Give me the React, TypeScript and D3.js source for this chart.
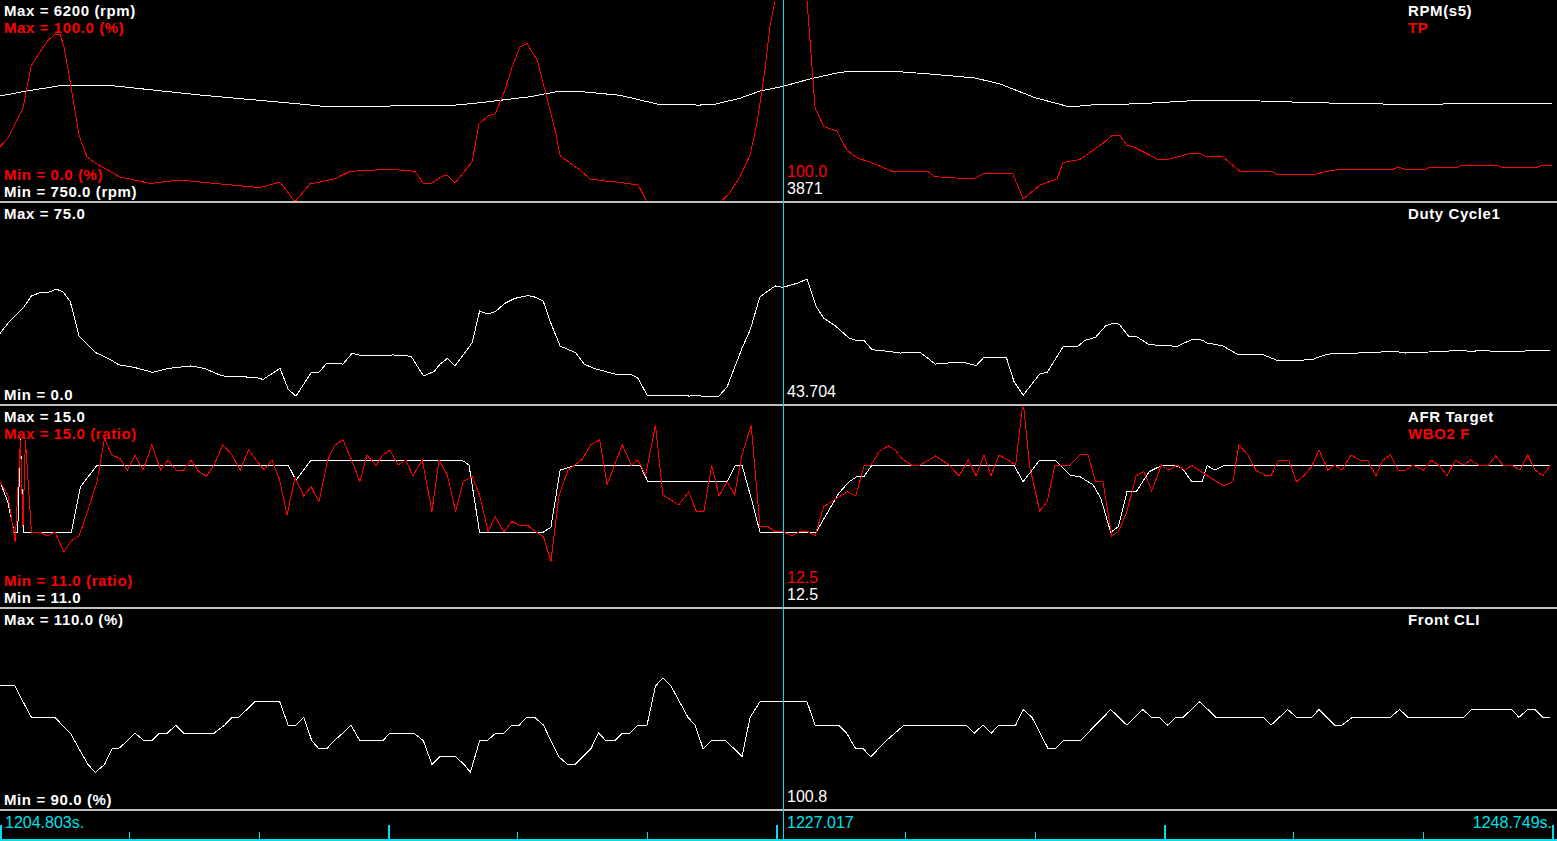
import { useEffect, useRef } from 'react';
import * as d3 from 'd3';

type Pt = [number, number];

// log window (s)
const startTime = 1204.803;
const endTime = 1248.749;
const cursorTime = 1227.017;

// [seconds since start, value]
const rpm: Pt[] = [
  [0, 3610], [0.76, 3745], [1.70, 3888], [3.26, 3880], [5.66, 3637], [8.49, 3394], [9.15, 3332],
  [10.76, 3338], [12.74, 3350], [13.59, 3429], [15.01, 3591], [15.72, 3718], [16.57, 3718],
  [17.56, 3629], [18.69, 3375], [19.82, 3366], [20.25, 3390], [20.95, 3548], [21.52, 3745],
  [22.17, 3871], [22.94, 4070], [23.79, 4250], [24.35, 4284], [25.20, 4284], [26.33, 4203],
  [27.61, 4096], [28.32, 3934], [29.31, 3564], [30.30, 3313], [30.86, 3366], [32.28, 3402],
  [33.98, 3494], [35.68, 3475], [37.24, 3428], [40.21, 3375], [41.12, 3401], [43.95, 3401],
];

const tp: Pt[] = [
  [0, 27.4], [0.23, 31.8], [0.65, 46.4], [0.88, 67.3], [1.13, 74.3], [1.36, 80], [1.56, 83],
  [1.70, 83], [1.81, 77], [1.98, 60.4], [2.24, 32.7], [2.46, 22.4], [2.69, 19.3], [3.40, 12.4],
  [4.25, 9.2], [5.10, 10.9], [5.95, 9.4], [7.36, 7.1], [7.93, 9.9], [8.35, 0.1], [8.78, 8.9],
  [9.49, 11.5], [9.91, 15.2], [11.04, 16.2], [11.75, 15.2], [11.98, 9.4], [12.23, 9.4],
  [12.54, 12.9], [12.66, 13.4], [12.88, 9.4], [13.37, 19.9], [13.56, 38.6], [13.82, 42.6],
  [14.02, 43.6], [14.30, 55.4], [14.50, 66.8], [14.72, 76.7], [14.92, 78.5], [15.21, 70.3],
  [15.43, 55.4], [15.72, 35.6], [15.86, 22.9], [16.42, 15.8], [16.71, 11.4], [17.13, 10.4],
  [17.47, 9.9], [17.75, 9.2], [18.07, 8.4], [18.32, 0], [20.39, 0], [20.64, 4], [20.95, 12.4],
  [21.24, 23.3], [21.44, 39.6], [21.66, 65.3], [21.80, 86.6], [21.95, 100], [22.85, 100],
  [23.08, 46.5], [23.33, 37.3], [23.70, 35.1], [23.98, 25.7], [24.27, 21.8], [24.63, 19.8],
  [25.29, 15], [26.28, 15], [26.48, 12.5], [27.55, 11.4], [27.84, 13.9], [28.68, 13.9],
  [28.97, 1.5], [29.45, 8.4], [29.93, 11.4], [30.10, 19.5], [30.58, 21.1], [31.23, 29],
  [31.49, 33], [31.71, 33], [31.91, 28.1], [32.08, 27.4], [32.79, 21.1], [33.07, 21.1],
  [33.36, 22.4], [33.70, 24.1], [33.98, 24.1], [34.18, 22.3], [34.63, 22.3], [35.11, 15.2],
  [36.02, 15.2], [36.19, 13.4], [37.18, 13.4], [37.58, 15.2], [37.94, 16.2], [39.44, 16.2],
  [39.59, 17.2], [39.78, 16.2], [40.35, 16.2], [40.49, 17.2], [41.26, 17.2], [41.40, 18.2],
  [42.39, 18.2], [42.53, 17.2], [43.52, 17.2], [43.66, 18.2], [43.95, 18.2],
];

const duty: Pt[] = [
  [0, 26.6], [0.26, 30.9], [0.65, 35.9], [0.89, 40.5], [1.13, 41.7], [1.37, 41.8], [1.59, 43],
  [1.78, 42.1], [1.99, 38.4], [2.24, 25.6], [2.72, 19.4], [3.11, 17], [3.37, 14.9], [3.79, 14],
  [4.33, 12.1], [4.76, 13.6], [5.41, 14.5], [5.78, 13.6], [6.29, 10.8], [6.71, 10.5],
  [7.22, 10.3], [7.45, 9.5], [7.93, 13.6], [8.16, 5.8], [8.38, 3.3], [8.81, 12], [9.03, 12.1],
  [9.25, 15.5], [9.71, 15.2], [9.97, 19.2], [10.25, 18.3], [10.99, 18.3], [11.13, 18.6],
  [11.64, 18.1], [11.99, 10.8], [12.29, 12.4], [12.46, 15.2], [12.67, 17.3], [12.88, 14.5],
  [13.37, 23.1], [13.58, 34.9], [13.79, 33.8], [14.02, 34.6], [14.30, 37.8], [14.58, 39.6],
  [14.95, 40.6], [15.17, 40], [15.38, 38.6], [15.60, 30.3], [15.86, 21.9], [16.30, 19.4],
  [16.54, 15.2], [16.82, 13.6], [17.41, 11.5], [17.84, 11.5], [18.07, 9.9], [18.32, 3.7],
  [19.37, 3.7], [19.51, 3.3], [19.71, 3.7], [19.86, 3.3], [20.36, 3.3], [20.59, 6.8],
  [21.01, 21], [21.24, 27.8], [21.52, 40.2], [21.95, 44.2], [22.17, 43.7], [22.60, 45.3],
  [22.85, 46.8], [23.11, 36.6], [23.32, 32.3], [23.67, 29.2], [24.04, 24.9], [24.26, 23.9],
  [24.47, 23.9], [24.69, 20.5], [24.98, 20.2], [25.49, 19.3], [26.05, 19.6], [26.48, 15.2],
  [26.84, 15.6], [27.27, 15.9], [27.64, 14.6], [27.86, 17.7], [28.50, 17.5], [28.71, 8.8],
  [28.97, 3.6], [29.44, 11.5], [29.65, 12.1], [30.11, 21.8], [30.52, 21.8], [30.72, 24],
  [31.02, 25.1], [31.31, 29.4], [31.52, 30.4], [31.69, 30], [31.96, 25.5], [32.17, 25.5],
  [32.54, 22.4], [33.33, 21.8], [33.75, 24.3], [34.04, 24.1], [34.18, 23], [34.62, 22],
  [35.06, 18.7], [35.76, 18.7], [36.20, 16.4], [37.14, 16.8], [37.58, 18.9], [38.43, 19.3],
  [39.52, 19.9], [39.80, 19.3], [40.66, 19.8], [41.39, 20.3], [41.68, 19.8], [41.88, 20.3],
  [42.47, 19.8], [43.90, 20.3],
];

const afrTarget: Pt[] = [
  [0, 13.5], [0.22, 13.1], [0.40, 12.5], [0.50, 12.5], [0.58, 14.37], [0.66, 12.5],
  [0.89, 12.5], [2.02, 12.5], [2.28, 13.4], [2.75, 13.83], [8.16, 13.83], [8.38, 13.53],
  [8.81, 13.93], [13.08, 13.93], [13.28, 13.83], [13.58, 12.5], [15.38, 12.5], [15.60, 12.6],
  [15.86, 13.73], [16.32, 13.83], [18.12, 13.83], [18.35, 13.5], [20.59, 13.5], [20.83, 13.83],
  [21.01, 13.83], [21.31, 13.07], [21.52, 12.5], [23.11, 12.5], [23.39, 12.84], [23.75, 13.27],
  [24.04, 13.5], [24.26, 13.6], [24.47, 13.61], [24.69, 13.83], [28.71, 13.83], [28.97, 13.5],
  [29.44, 13.93], [29.87, 13.93], [30.30, 13.63], [30.58, 13.6], [30.95, 13.44], [31.17, 13.17],
  [31.45, 12.5], [31.67, 12.61], [31.91, 13.3], [32.17, 13.3], [32.54, 13.7], [32.89, 13.82],
  [33.24, 13.83], [33.47, 13.77], [33.75, 13.5], [34.04, 13.5], [34.18, 13.82], [34.40, 13.73],
  [34.69, 13.83], [43.90, 13.83],
];

const wbo2: Pt[] = [
  [0, 13.5], [0.22, 13.24], [0.43, 12.31], [0.58, 14.33], [0.65, 12.6], [0.72, 14.33],
  [0.89, 12.5], [1.13, 12.5], [1.33, 12.43], [1.56, 12.5], [1.81, 12.11], [2.02, 12.33],
  [2.24, 12.43], [2.43, 12.81], [2.75, 13.5], [2.96, 14.36], [3.17, 14.03], [3.40, 13.96],
  [3.61, 13.73], [3.82, 14.03], [4.05, 13.73], [4.30, 14.23], [4.55, 13.73], [4.76, 13.93],
  [4.98, 13.73], [5.20, 13.73], [5.41, 13.93], [5.63, 13.70], [5.85, 13.61], [6.06, 13.83],
  [6.31, 14.23], [6.57, 14.03], [6.80, 13.73], [7.04, 14.13], [7.22, 13.96], [7.48, 13.73],
  [7.70, 13.93], [7.92, 13.53], [8.13, 12.84], [8.35, 13.58], [8.60, 13.22], [8.81, 13.40],
  [9.03, 13.10], [9.28, 13.93], [9.49, 14.23], [9.71, 14.33], [9.94, 13.96], [10.19, 13.50],
  [10.39, 14.03], [10.65, 13.82], [10.84, 14.03], [11.04, 14.13], [11.27, 13.83], [11.49, 13.93],
  [11.69, 13.62], [11.96, 13.93], [12.23, 12.91], [12.43, 13.93], [12.67, 13.63], [12.90, 12.91],
  [13.11, 13.50], [13.37, 13.60], [13.58, 13.24], [13.82, 12.51], [14.02, 12.81], [14.27, 12.51],
  [14.49, 12.71], [14.70, 12.64], [14.95, 12.63], [15.17, 12.51], [15.39, 12.41], [15.60, 11.92],
  [15.82, 13.20], [16.08, 13.73], [16.47, 13.93], [16.73, 14.23], [16.98, 14.33], [17.19, 13.44],
  [17.62, 14.23], [17.88, 13.83], [18.06, 13.93], [18.28, 13.63], [18.56, 14.62], [18.77, 13.24],
  [19.22, 13.04], [19.50, 13.30], [19.72, 12.91], [19.93, 12.91], [20.15, 13.83], [20.36, 13.22],
  [20.59, 13.50], [20.80, 13.24], [21.01, 14.03], [21.27, 14.62], [21.52, 12.61], [21.75, 12.61],
  [21.96, 12.51], [22.17, 12.51], [22.41, 12.43], [22.64, 12.51], [22.88, 12.51], [23.08, 12.43],
  [23.32, 13.0], [23.61, 13.14], [24.00, 13.30], [24.23, 13.22], [24.47, 13.82], [24.66, 13.83],
  [24.90, 14.10], [25.15, 14.21], [25.34, 14.13], [25.54, 13.96], [25.81, 13.83], [26.05, 13.83],
  [26.49, 14.01], [26.87, 13.83], [27.16, 13.62], [27.42, 13.93], [27.64, 13.62], [27.86, 14.03],
  [28.06, 13.62], [28.29, 14.03], [28.54, 13.93], [28.76, 13.83], [28.97, 15.1], [29.15, 13.83],
  [29.44, 12.92], [29.65, 13.10], [29.87, 13.83], [30.30, 13.83], [30.58, 14.03], [30.81, 14.03],
  [31.02, 13.50], [31.23, 13.50], [31.48, 12.43], [31.67, 12.51], [31.91, 12.91], [32.17, 13.62],
  [32.39, 13.70], [32.61, 13.32], [32.89, 13.83], [33.10, 13.73], [33.33, 13.83], [33.54, 13.73],
  [33.75, 13.82], [34.18, 13.62], [34.65, 13.42], [34.91, 13.50], [35.08, 14.23], [35.34, 14.03],
  [35.56, 13.73], [35.84, 13.62], [35.99, 13.62], [36.20, 13.93], [36.49, 13.93], [36.71, 13.50],
  [36.92, 13.62], [37.14, 13.80], [37.35, 14.13], [37.60, 13.73], [37.79, 13.83], [38.00, 13.73],
  [38.25, 14.03], [38.51, 13.93], [38.72, 13.93], [38.96, 13.62], [39.16, 13.93], [39.37, 14.03],
  [39.59, 13.73], [39.80, 13.73], [40.01, 13.83], [40.31, 13.73], [40.52, 13.93], [40.74, 13.83],
  [40.98, 13.62], [41.21, 13.93], [41.43, 13.83], [41.64, 13.93], [41.89, 13.82], [42.13, 13.82],
  [42.35, 14.01], [42.56, 13.83], [42.80, 13.83], [43.04, 13.73], [43.26, 14.03], [43.47, 13.73],
  [43.69, 13.62], [43.90, 13.83],
];

const frontCli: Pt[] = [
  [0, 102.34], [0.43, 102.34], [0.65, 100.78], [0.89, 99.22], [1.56, 99.22], [1.76, 98.44],
  [1.99, 97.66], [2.24, 96.09], [2.49, 94.53], [2.70, 93.75], [2.96, 94.53], [3.17, 96.09],
  [3.35, 96.09], [3.61, 96.88], [3.82, 97.66], [4.08, 96.88], [4.29, 96.88], [4.52, 97.66],
  [4.74, 97.66], [4.98, 98.44], [5.20, 97.66], [6.07, 97.66], [6.36, 98.44], [6.57, 99.22],
  [6.76, 99.22], [7.22, 100.78], [7.92, 100.78], [8.16, 98.44], [8.38, 98.44], [8.60, 99.22],
  [8.83, 96.88], [9.03, 96.09], [9.25, 96.09], [9.46, 96.88], [9.71, 97.66], [9.94, 98.44],
  [10.19, 96.88], [10.84, 96.88], [11.04, 97.66], [11.72, 97.66], [11.99, 96.88], [12.23, 94.53],
  [12.46, 95.31], [12.90, 95.31], [13.14, 94.53], [13.32, 93.75], [13.58, 96.88], [13.79, 96.88],
  [14.04, 97.66], [14.27, 97.66], [14.49, 98.44], [14.70, 98.44], [14.92, 99.22], [15.14, 99.22],
  [15.39, 98.44], [15.60, 96.88], [15.82, 95.31], [16.07, 94.53], [16.28, 94.53], [16.51, 95.31],
  [16.73, 96.09], [16.95, 97.66], [17.16, 96.88], [17.41, 96.88], [17.62, 97.66], [17.84, 97.66],
  [18.06, 98.44], [18.32, 98.44], [18.56, 102.34], [18.77, 103.13], [19.00, 102.34],
  [19.24, 100.78], [19.48, 99.22], [19.68, 98.44], [19.91, 96.09], [20.13, 96.88], [20.56, 96.88],
  [21.01, 95.31], [21.24, 99.22], [21.52, 100.78], [22.85, 100.78], [23.08, 98.44], [23.75, 98.44],
  [23.97, 97.66], [24.23, 96.09], [24.44, 96.09], [24.66, 95.31], [25.09, 96.88], [25.60, 98.44],
  [27.35, 98.44], [27.59, 97.66], [27.83, 98.44], [28.07, 97.66], [28.29, 98.44], [28.76, 98.44],
  [28.97, 100.0], [29.22, 99.22], [29.68, 96.09], [29.87, 96.09], [30.11, 96.88], [30.58, 96.88],
  [31.02, 98.44], [31.45, 100.0], [31.91, 98.44], [32.36, 100.0], [32.61, 99.22], [32.82, 99.22],
  [33.06, 98.44], [33.30, 99.22], [33.50, 99.22], [33.97, 100.78], [34.43, 99.22], [35.77, 99.22],
  [35.99, 98.44], [36.46, 100.0], [36.71, 99.22], [37.14, 99.22], [37.35, 100.0], [37.79, 98.44],
  [38.00, 98.44], [38.29, 99.22], [39.37, 99.22], [39.63, 100.0], [39.87, 99.22], [41.45, 99.22],
  [41.67, 100.0], [42.80, 100.0], [43.01, 99.22], [43.26, 100.0], [43.47, 100.0], [43.69, 99.22],
  [43.90, 99.22],
];

// cursor readouts shown at 1227.017 s
const readouts = ['3871', '100.0', '43.704', '12.5', '12.5', '100.8'];

type Trace = {
  name: string
  data: Pt[]
  color: string
  min: number
  max: number
  maxLabel: string
  minLabel: string
  readout: string
};

const panels: Trace[][] = [
  [
    { name: 'RPM(s5)', data: rpm, color: '#ffffff', min: 750, max: 6200, maxLabel: 'Max = 6200 (rpm)', minLabel: 'Min = 750.0 (rpm)', readout: readouts[0] },
    { name: 'TP', data: tp, color: '#ff0000', min: 0, max: 100, maxLabel: 'Max = 100.0 (%)', minLabel: 'Min = 0.0 (%)', readout: readouts[1] },
  ],
  [
    { name: 'Duty Cycle1', data: duty, color: '#ffffff', min: 0, max: 75, maxLabel: 'Max = 75.0', minLabel: 'Min = 0.0', readout: readouts[2] },
  ],
  [
    { name: 'AFR Target', data: afrTarget, color: '#ffffff', min: 11, max: 15, maxLabel: 'Max = 15.0', minLabel: 'Min = 11.0', readout: readouts[3] },
    { name: 'WBO2 F', data: wbo2, color: '#ff0000', min: 11, max: 15, maxLabel: 'Max = 15.0 (ratio)', minLabel: 'Min = 11.0 (ratio)', readout: readouts[4] },
  ],
  [
    { name: 'Front CLI', data: frontCli, color: '#ffffff', min: 90, max: 110, maxLabel: 'Max = 110.0 (%)', minLabel: 'Min = 90.0 (%)', readout: readouts[5] },
  ],
];

const LogViewer = () => {
  const ref = useRef<HTMLDivElement>(null);
  useEffect(() => {
    const width = 1557;
    const height = 841;
    const plotRight = 1552;
    const panelBounds: [number, number][] = [[0, 202], [203, 405], [406, 608], [609, 810]];
    const cyan = '#00e0ea';
    const grid = '#c0c0c0';
    const font = '"Liberation Sans", Arial, sans-serif';

    const x = d3.scaleLinear()
      .domain([0, endTime - startTime])
      .range([0, plotRight]);
    const cursorX = Math.floor(x(cursorTime - startTime)) - 1;

    const svg = d3.create('svg')
      .attr('width', width)
      .attr('height', height)
      .attr('viewBox', [0, 0, width, height])
      .style('display', 'block')
      .style('background', '#000')
      .style('font-family', font);

    const defs = svg.append('defs');

    panels.forEach((traces, pi) => {
      const [top, bottom] = panelBounds[pi];
      const g = svg.append('g');
      defs.append('clipPath')
        .attr('id', `clip${pi}`)
        .append('rect')
        .attr('x', 0)
        .attr('y', top + 1)
        .attr('width', width)
        .attr('height', bottom - top);

      traces.forEach((tr, i) => {
        const y = d3.scaleLinear().domain([tr.min, tr.max]).range([bottom, top]);
        const line = d3.line<Pt>()
          .x((d) => x(d[0]))
          .y((d) => y(d[1]));

        g.append('path')
          .attr('clip-path', `url(#clip${pi})`)
          .attr('d', line(tr.data))
          .attr('fill', 'none')
          .attr('stroke', tr.color)
          .attr('stroke-width', 1)
          .attr('shape-rendering', 'crispEdges');

        // scale labels: max stacked downwards, min stacked upwards
        const labels = g.append('g')
          .attr('fill', tr.color)
          .attr('font-size', 15)
          .attr('font-weight', 'bold')
          .attr('letter-spacing', 0.6);
        labels.append('text')
          .attr('x', 4)
          .attr('y', top + 16 + 17 * i)
          .text(tr.maxLabel);
        labels.append('text')
          .attr('x', 4)
          .attr('y', bottom - 5 - 17 * i)
          .text(tr.minLabel);
        labels.append('text')
          .attr('x', 1408)
          .attr('y', top + 16 + 17 * i)
          .text(tr.name);

        g.append('text')
          .attr('x', cursorX + 4)
          .attr('y', bottom - 8 - 17 * i)
          .attr('fill', tr.color)
          .attr('font-size', 16)
          .text(tr.readout);
      });

      svg.append('line')
        .attr('x1', 0)
        .attr('x2', width)
        .attr('y1', bottom)
        .attr('y2', bottom)
        .attr('stroke', grid)
        .attr('stroke-width', 2);
    });

    // time axis
    const axisY = 840;
    const divisions = 12;
    const span = endTime - startTime;
    const ticks = d3.range(divisions + 1).map((i) => (span * i) / divisions);
    const axis = svg.append('g');
    axis.append('line')
      .attr('x1', 0)
      .attr('x2', width)
      .attr('y1', axisY)
      .attr('y2', axisY)
      .attr('stroke', cyan)
      .attr('stroke-width', 2);
    axis.selectAll('line.tick')
      .data(ticks)
      .join('line')
      .attr('class', 'tick')
      .attr('x1', (d, i) => Math.round(x(d)) + (i % 3 === 0 ? 1 : 0.5))
      .attr('x2', (d, i) => Math.round(x(d)) + (i % 3 === 0 ? 1 : 0.5))
      .attr('y1', (d, i) => (i % 3 === 0 ? 825 : 832))
      .attr('y2', axisY)
      .attr('stroke', cyan)
      .attr('stroke-width', (d, i) => (i % 3 === 0 ? 2 : 1));

    const timeText = axis.append('g')
      .attr('fill', cyan)
      .attr('font-size', 16);
    timeText.append('text')
      .attr('x', 5)
      .attr('y', 828)
      .text(`${startTime.toFixed(3)}s.`);
    timeText.append('text')
      .attr('x', cursorX + 4)
      .attr('y', 828)
      .text(cursorTime.toFixed(3));
    timeText.append('text')
      .attr('x', plotRight)
      .attr('y', 828)
      .attr('text-anchor', 'end')
      .text(`${endTime.toFixed(3)}s.`);

    // cursor
    svg.append('line')
      .attr('x1', cursorX + 0.5)
      .attr('x2', cursorX + 0.5)
      .attr('y1', 0)
      .attr('y2', height)
      .attr('stroke', cyan)
      .attr('stroke-width', 1);

    const node = svg.node()!;
    ref.current?.append(node);
    return () => {
      node.remove();
    };
  });
  return (
    <div ref={ref} style={{ position: 'absolute', left: 0, top: 0, width: 1557, height: 841, background: '#000' }}>
    </div>
  );
};

export default function App() {
  return <LogViewer />;
}
